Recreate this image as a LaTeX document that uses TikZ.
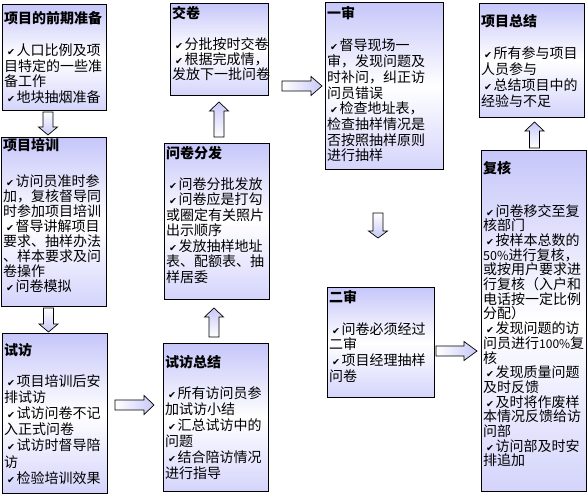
\documentclass[tikz,border=0pt]{standalone}
\usepackage{fontspec}
\setmainfont{Noto Sans CJK SC}
\newfontfamily\symfont{DejaVu Sans}
\usetikzlibrary{calc}
\definecolor{lav}{RGB}{198,198,250}
\definecolor{lavlow}{RGB}{212,212,252}
\definecolor{arrlav}{RGB}{200,200,248}
\newcommand{\ck}{\hspace*{3pt}{\symfont\fontsize{9.5}{9.5}\selectfont ✔}\hspace*{1.5pt}}
\newcommand{\blockarrow}[4]{%
  \coordinate (bh) at ($(#3)!#4!(#2)$);
  \shade[#1,draw=black,line width=0.7pt,line join=miter]
    ($(#2)!5pt!90:(#3)$) -- ($(bh)!5pt!90:(#3)$) -- ($(bh)!9.5pt!90:(#3)$) -- (#3)
    -- ($(bh)!9.5pt!-90:(#3)$) -- ($(bh)!5pt!-90:(#3)$) -- ($(#2)!5pt!-90:(#3)$) -- cycle;}
\tikzset{
  stagebox/.style={draw=black, line width=0.9pt, top color=lav, bottom color=lavlow,
    middle color=white, inner sep=0pt, anchor=north west},
  ttl/.style={anchor=west, inner sep=0pt, font=\bfseries\fontsize{14}{16}\selectfont},
  body/.style={anchor=north west, inner sep=0pt, align=left, font=\fontsize{14}{#1}\selectfont},
  downshade/.style={top color=white, bottom color=arrlav},
  upshade/.style={bottom color=white, top color=arrlav},
  rightshade/.style={left color=white, right color=arrlav}
}
\begin{document}
\begin{tikzpicture}[x=1pt, y=-1pt]
\useasboundingbox (0,0) rectangle (587,494);
% boxes
\node[stagebox, minimum width=104pt, minimum height=106pt] (pre) at (2,4) {};
\node[stagebox, minimum width=105pt, minimum height=169pt] (train) at (1,137) {};
\node[stagebox, minimum width=105pt, minimum height=160pt] (pilot) at (2,333) {};
\node[stagebox, minimum width=105pt, minimum height=148pt] (pilotsum) at (163,343) {};
\node[stagebox, minimum width=105pt, minimum height=156pt] (dist) at (164,143) {};
\node[stagebox, minimum width=98pt, minimum height=92pt] (submit) at (170,3) {};
\node[stagebox, minimum width=118pt, minimum height=167pt] (rev1) at (325,2) {};
\node[stagebox, minimum width=107pt, minimum height=110pt] (rev2) at (327,287) {};
\node[stagebox, minimum width=105pt, minimum height=341pt] (check) at (481,150) {};
\node[stagebox, minimum width=105pt, minimum height=114pt] (final) at (479,3) {};
% texts
\node[ttl] (preT) at (4,18) {项目的前期准备};
\node[body=15.5] (preB) at (4,44) {\ck 人口比例及项\\目特定的一些准\\备工作\\\ck 地块抽烟准备};
\node[ttl] (trainT) at (3,145) {项目培训};
\node[body=15] (trainB) at (3,174) {\ck 访问员准时参\\加，复核督导同\\时参加项目培训\\\ck 督导讲解项目\\要求、抽样办法\\、样本要求及问\\卷操作\\\ck 问卷模拟};
\node[ttl] (pilotT) at (4,350) {试访};
\node[body=16.2] (pilotB) at (4,374) {\ck 项目培训后安\\排试访\\\ck 试访问卷不记\\入正式问卷\\\ck 试访时督导陪\\访\\\ck 检验培训效果};
\node[ttl] (pilotsumT) at (165,362) {试访总结};
\node[body=16] (pilotsumB) at (165,386) {\ck 所有访问员参\\加试访小结\\\ck 汇总试访中的\\问题\\\ck 结合陪访情况\\进行指导};
\node[ttl] (distT) at (166,153) {问卷分发};
\node[body=15.5] (distB) at (166,177) {\ck 问卷分批发放\\\ck 问卷应是打勾\\或圈定有关照片\\出示顺序\\\ck 发放抽样地址\\表、配额表、抽\\样居委};
\node[ttl] (submitT) at (172,13) {交卷};
\node[body=15] (submitB) at (172,37) {\ck 分批按时交卷\\\ck 根据完成情，\\发放下一批问卷};
\node[ttl] (rev1T) at (327,13) {一审};
\node[body=15.7] (rev1B) at (327,39) {\ck 督导现场一\\审，发现问题及\\时补问，纠正访\\问员错误\\\ck 检查地址表，\\检查抽样情况是\\否按照抽样原则\\进行抽样};
\node[ttl] (rev2T) at (329,297) {二审};
\node[body=15.7] (rev2B) at (329,322) {\ck 问卷必须经过\\二审\\\ck 项目经理抽样\\问卷};
\node[ttl] (checkT) at (483,168) {复核};
\node[body=14.7] (checkB) at (483,204) {\ck 问卷移交至复\\核部门\\\ck 按样本总数的\\{\fontsize{12.5}{14.7}\selectfont 50\%}进行复核，\\或按用户要求进\\行复核（入户和\\电话按一定比例\\分配）\\\ck 发现问题的访\\问员进行{\fontsize{12}{14.7}\selectfont 100\%}复\\核\\\ck 发现质量问题\\及时反馈\\\ck 及时将作废样\\本情况反馈给访\\问部\\\ck 访问部及时安\\排追加};
\node[ttl] (finalT) at (481,21) {项目总结};
\node[body=16] (finalB) at (481,46) {\ck 所有参与项目\\人员参与\\\ck 总结项目中的\\经验与不足};
% arrow end points
\coordinate (a1s) at (48,112);   \coordinate (a1e) at (48,135);
\coordinate (a2s) at (48.5,308); \coordinate (a2e) at (48.5,332);
\coordinate (a3s) at (115,405);  \coordinate (a3e) at (154,405);
\coordinate (a4s) at (214,337);  \coordinate (a4e) at (214,308);
\coordinate (a5s) at (219,137);  \coordinate (a5e) at (219,102);
\coordinate (a6s) at (282,86);   \coordinate (a6e) at (322,86);
\coordinate (a7s) at (378,213);  \coordinate (a7e) at (378,238);
\coordinate (a8s) at (436,351);  \coordinate (a8e) at (477,351);
\coordinate (a9s) at (534.5,148);\coordinate (a9e) at (534.5,122);
\blockarrow{downshade}{a1s}{a1e}{8pt}
\blockarrow{downshade}{a2s}{a2e}{8pt}
\blockarrow{rightshade}{a3s}{a3e}{10pt}
\blockarrow{upshade}{a4s}{a4e}{9pt}
\blockarrow{upshade}{a5s}{a5e}{9pt}
\blockarrow{rightshade}{a6s}{a6e}{11pt}
\blockarrow{downshade}{a7s}{a7e}{7pt}
\blockarrow{rightshade}{a8s}{a8e}{13pt}
\blockarrow{upshade}{a9s}{a9e}{9pt}
\end{tikzpicture}
\end{document}
